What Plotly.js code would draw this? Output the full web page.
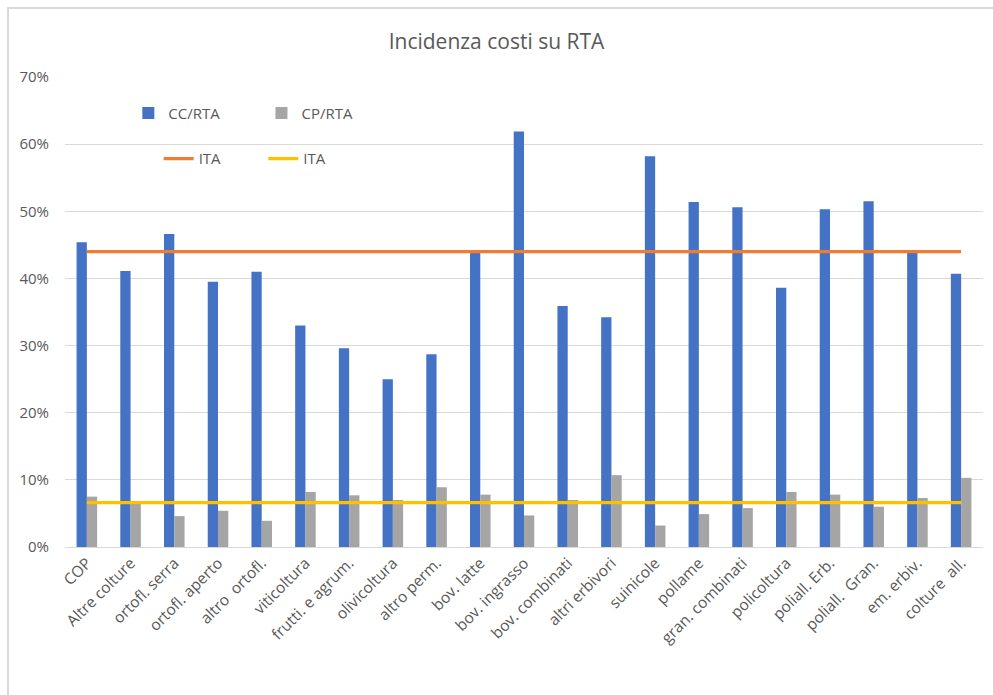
<!DOCTYPE html>
<html>
<head>
<meta charset="utf-8">
<script src="https://cdn.plot.ly/plotly-3.0.1.min.js"></script>
<style>
  html, body { margin: 0; padding: 0; background: #fff; }
  #wrap { position: relative; width: 993px; height: 695px; overflow: hidden; }
  #chart { position: absolute; left: 0; top: 0; width: 993px; height: 695px; }
  #frame { position: absolute; left: 7px; top: 7px; width: 1000px; height: 700px;
           border-top: 2px solid #d9d9d9; border-left: 2px solid #d9d9d9; pointer-events: none; }
</style>
</head>
<body>
<div id="wrap">
  <div id="chart"></div>
  <div id="frame"></div>
</div>
<script>
// Farm types (OTE) on the category axis
const categories = [
  'COP', 'Altre colture', 'ortofl. serra', 'ortofl. aperto', 'altro  ortofl.',
  'viticoltura', 'frutti. e agrum.', 'olivicoltura', 'altro perm.', 'bov. latte',
  'bov. ingrasso', 'bov. combinati', 'altri erbivori', 'suinicole', 'pollame',
  'gran. combinati', 'policoltura', 'poliall. Erb.', 'poliall.  Gran.', 'em. erbiv.',
  'colture  all.'
];

// Current costs over RTA (%)
const ccRta = [
  45.4, 41.1, 46.6, 39.5, 41.0,
  33.0, 29.6, 25.0, 28.7, 43.8,
  61.9, 35.9, 34.2, 58.2, 51.4,
  50.6, 38.6, 50.3, 51.5, 43.9,
  40.7
];

// Multi-year costs over RTA (%)
const cpRta = [
  7.5, 6.5, 4.6, 5.4, 3.9,
  8.2, 7.7, 7.0, 8.9, 7.8,
  4.7, 7.0, 10.7, 3.2, 4.9,
  5.8, 8.2, 7.8, 6.0, 7.3,
  10.3
];

// National averages (Italy)
const itaCc = 44.0;
const itaCp = 6.6;

const yTicks = [0, 10, 20, 30, 40, 50, 60, 70];

const txt = '#595959';
const fontFamily = '"Open Sans", "Noto Sans", sans-serif';

const traces = [
  { type: 'bar', name: 'CC/RTA', x: categories, y: ccRta,
    marker: { color: '#4472C4' }, legend: 'legend' },
  { type: 'bar', name: 'CP/RTA', x: categories, y: cpRta,
    marker: { color: '#A5A5A5' }, legend: 'legend2' },
  { type: 'scatter', mode: 'lines', name: 'ITA', x: categories,
    y: categories.map(() => itaCc),
    line: { color: '#ED7D31', width: 3.2 }, legend: 'legend3' },
  { type: 'scatter', mode: 'lines', name: 'ITA', x: categories,
    y: categories.map(() => itaCp),
    line: { color: '#FFC000', width: 3.2 }, legend: 'legend4' }
];

const legendBase = {
  bgcolor: 'rgba(0,0,0,0)', borderwidth: 0,
  font: { family: fontFamily, size: 15, color: txt },
  xanchor: 'left', yanchor: 'middle', orientation: 'h'
};

const layout = {
  width: 993, height: 695,
  margin: { l: 65, r: 10, t: 77, b: 148 },
  paper_bgcolor: '#ffffff', plot_bgcolor: '#ffffff',
  font: { family: fontFamily, color: txt, size: 15 },
  title: { text: 'Incidenza costi su RTA', x: 0.5, xanchor: 'center',
           y: 0.94, yanchor: 'middle',
           font: { family: fontFamily, size: 21, color: txt } },
  barmode: 'group', bargap: 0.53, bargroupgap: 0,
  xaxis: {
    type: 'category', tickangle: -45, showgrid: false,
    showline: true, linecolor: '#d9d9d9', linewidth: 1,
    ticks: '', tickfont: { family: fontFamily, size: 15.5, color: txt },
    automargin: false
  },
  yaxis: {
    range: [0, 70], tickvals: yTicks, ticktext: yTicks.map(v => v + '%'),
    showgrid: true, gridcolor: '#d9d9d9', gridwidth: 1,
    zeroline: false, showline: false, ticks: '', ticklabelstandoff: 15,
    tickfont: { family: fontFamily, size: 15, color: txt },
    automargin: false
  },
  showlegend: true,
  legend:  Object.assign({}, legendBase, { x: 0.069, y: 0.923 }),
  legend2: Object.assign({}, legendBase, { x: 0.214, y: 0.923 }),
  legend3: Object.assign({}, legendBase, { x: 0.102, y: 0.826 }),
  legend4: Object.assign({}, legendBase, { x: 0.216, y: 0.826 })
};

Plotly.newPlot('chart', traces, layout, { displayModeBar: false, staticPlot: true });
</script>
</body>
</html>
